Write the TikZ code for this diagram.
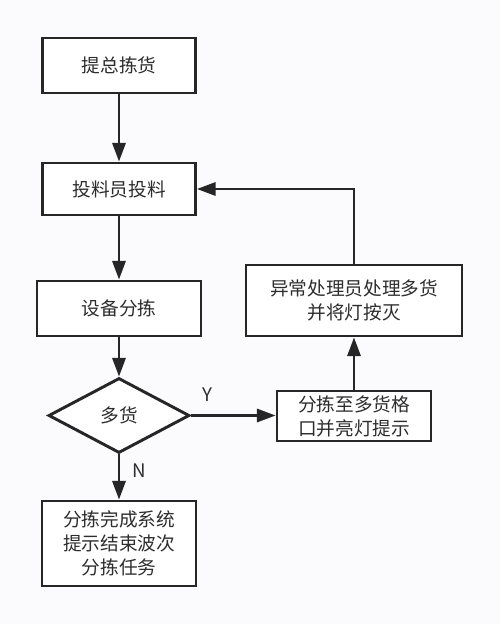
\documentclass[tikz,border=0pt]{standalone}
\usepackage{fontspec}
\setmainfont{Noto Sans CJK SC}
\usepackage{tikz}
\usetikzlibrary{positioning}
\usetikzlibrary{arrows.meta}
\usetikzlibrary{shapes.geometric}
\definecolor{linegray}{RGB}{38,38,38}
\definecolor{textgray}{RGB}{45,45,45}
\definecolor{paper}{RGB}{251,251,253}

\begin{document}
\begin{tikzpicture}[
            x = 0.75pt, y = -0.75pt, % one unit = one pixel, y down
            > = {Triangle[length=14pt, width=10pt]}, % arrow head style
            line width = 1.6pt,
            draw = linegray,
            font = \fontsize{14}{18}\selectfont\color{textgray}
        ]

        \tikzstyle{stepbox}=[
            draw = linegray,
            line width = 2.2pt,
            fill = white,
            align = center,
            inner sep = 2pt
        ]
        \tikzstyle{decide}=[
            stepbox,
            diamond,
            inner sep = 0pt
        ]

        \useasboundingbox[fill = paper] (0,0) rectangle (500,624);

        % main column
        \node[stepbox, minimum width=114.75pt, minimum height=41.25pt] (TZ) at (119,65.5) {提总拣货};
        \node[stepbox, minimum width=114.75pt, minimum height=39pt] (TL) at (119,189) {投料员投料};
        \node[stepbox, minimum width=123pt, minimum height=41.25pt] (FJ) at (119,308.5) {设备分拣};
        \node[decide, minimum width=105.75pt, minimum height=56.25pt] (DH) at (119,415.5) {多货};
        \node[stepbox, minimum width=115.5pt, minimum height=63.75pt] (WC) at (119,543.5) {分拣完成系统\\提示结束波次\\分拣任务};

        % exception column
        \node[stepbox, minimum width=115.5pt, minimum height=37.5pt] (GK) at (354,416) {分拣至多货格\\口并亮灯提示};
        \node[stepbox, minimum width=162pt, minimum height=53.25pt] (YC) at (354,300.5) {异常处理员处理多货\\并将灯按灭};

        \path[->] (TZ) edge (TL);
        \path[->] (TL) edge (FJ);
        \path[->] (FJ) edge (DH);
        \path[->] (DH) edge node[right=6pt, pos=0.35] {N} (WC);
        \path[->] (DH.east) edge node[above=6pt, pos=0.2] {Y} (GK.west |- DH.east);
        \path[->] (GK) edge (YC);
        \draw[->] (YC.north) |- (TL.east);

\end{tikzpicture}
\end{document}
